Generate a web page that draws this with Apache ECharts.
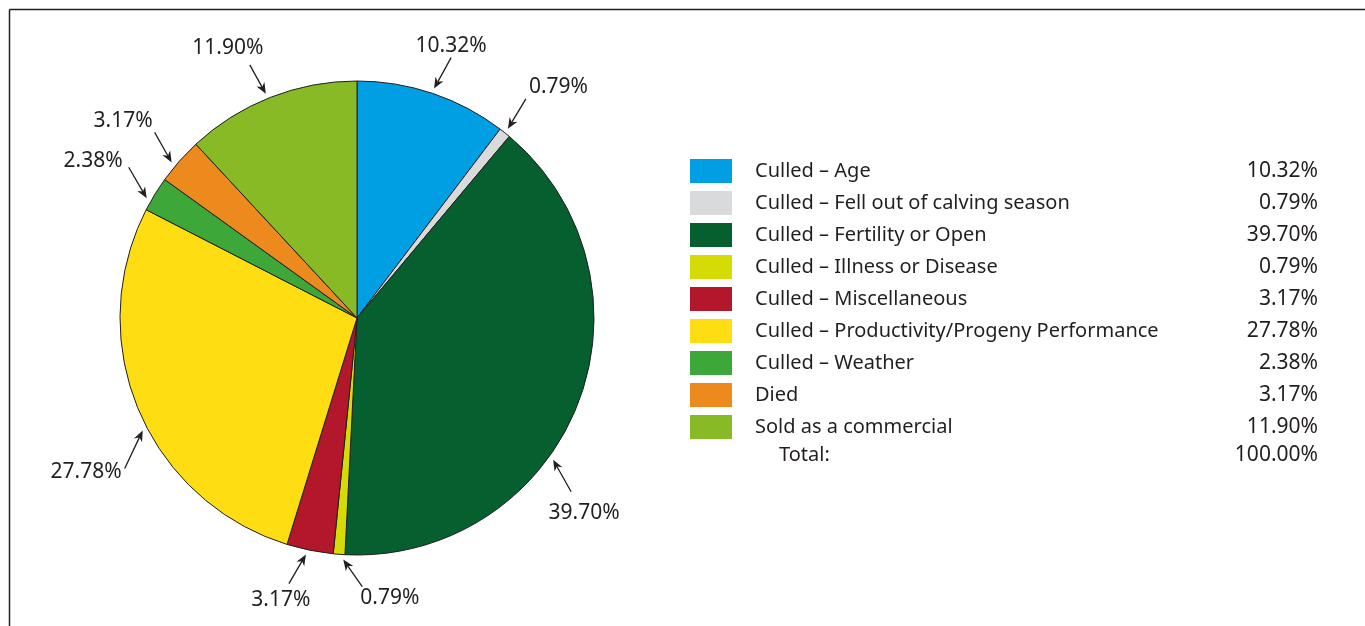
<!DOCTYPE html>
<html>
<head>
<meta charset="utf-8">
<script src="https://cdn.jsdelivr.net/npm/echarts@6/dist/echarts.min.js"></script>
<style>
html,body{margin:0;padding:0;background:#fff;}
#c{width:1365px;height:626px;}
</style>
</head>
<body>
<div id="c"></div>
<script>
// ---- data ----
const categories = [
  'Culled – Age',
  'Culled – Fell out of calving season',
  'Culled – Fertility or Open',
  'Culled – Illness or Disease',
  'Culled – Miscellaneous',
  'Culled – Productivity/Progeny Performance',
  'Culled – Weather',
  'Died',
  'Sold as a commercial'
];
const values = [10.32, 0.79, 39.70, 0.79, 3.17, 27.78, 2.38, 3.17, 11.90];
const valueLabels = ['10.32%', '0.79%', '39.70%', '0.79%', '3.17%', '27.78%', '2.38%', '3.17%', '11.90%'];
const totalName = 'Total:';
const totalLabel = '100.00%';

// ---- styles / layout (kept apart from the data) ----
const colors = ['#009fe3', '#d9dadb', '#065f2f', '#d5db05', '#b2172b', '#ffdd13', '#3da73a', '#ec8a1d', '#87ba25'];
const INK = '#231f20';
const FONT = 'Noto Sans';
const NAME_SIZE = 20, NUM_SIZE = 21;
const CX = 357, CY = 318, R = 237;
// arrow direction (tip -> tail) and text offset from tail, per label
const arrowVec = [[17,-31],[18,-30],[18,32],[19,27],[-17,29],[-18,38],[-18,-31],[-17,-30],[-16,-29]];
const textOff  = [[0,-12,'center'],[3,-12,'left'],[13,21,'center'],[-2,11,'left'],[-8,16,'center'],[-3,4,'right'],[-6,-6,'right'],[-2,-11,'right'],[-22,-17,'center']];
const anglePctShift = [0,0,4.0,-0.3,0.2,-1.35,-0.5,-0.4,-0.2];

const total = values.reduce((a, b) => a + b, 0);
let cum = 0;
const arrowData = values.map((v, i) => {
  const mid = cum + v / 2 + anglePctShift[i];
  cum += v;
  return [R + 5, mid, i];
});

const chart = echarts.init(document.getElementById('c'), null, {renderer: 'canvas'});
const numFont = NUM_SIZE + 'px "' + FONT + '"';
const nameFont = NAME_SIZE + 'px "' + FONT + '"';

const option = {
  backgroundColor: '#ffffff',
  animation: false,
  color: colors,
  polar: {center: [CX, CY], radius: R},
  angleAxis: {type: 'value', min: 0, max: total, startAngle: 90, clockwise: true, show: false},
  radiusAxis: {type: 'value', min: 0, max: R, show: false},
  legend: {
    orient: 'vertical',
    left: 690,
    top: 159,
    padding: 0,
    itemWidth: 42,
    itemHeight: 24,
    itemGap: 8,
    icon: 'rect',
    selectedMode: false,
    data: categories,
    itemStyle: {borderWidth: 0},
    formatter: function (name) {
      const i = categories.indexOf(name);
      return '{n|' + name + '}{v|' + valueLabels[i] + '}';
    },
    textStyle: {
      color: INK, fontFamily: FONT, fontSize: NAME_SIZE, lineHeight: 24,
      rich: {
        n: {color: INK, fontFamily: FONT, fontSize: NAME_SIZE, lineHeight: 24, width: 440, padding: [0, 0, 0, 18], verticalAlign: 'middle'},
        v: {color: INK, fontFamily: FONT, fontSize: NUM_SIZE, lineHeight: 24, width: 123, align: 'right', verticalAlign: 'middle'}
      }
    }
  },
  graphic: [
    {type: 'line', shape: {x1: 9.5, y1: 9.5, x2: 1365, y2: 9.5}, style: {stroke: INK, lineWidth: 1.5}, silent: true},
    {type: 'line', shape: {x1: 9.5, y1: 9.5, x2: 9.5, y2: 626}, style: {stroke: INK, lineWidth: 1.5}, silent: true},
    {type: 'text', x: 779, y: 455, style: {text: totalName, fill: INK, font: nameFont, verticalAlign: 'middle'}, silent: true},
    {type: 'text', x: 1318, y: 455, style: {text: totalLabel, fill: INK, font: numFont, align: 'right', verticalAlign: 'middle'}, silent: true}
  ],
  series: [
    {
      type: 'pie',
      center: [CX, CY],
      radius: [0, R],
      startAngle: 90,
      clockwise: true,
      avoidLabelOverlap: false,
      label: {show: false},
      labelLine: {show: false},
      emphasis: {disabled: true},
      itemStyle: {borderColor: INK, borderWidth: 1},
      data: categories.map((c, i) => ({name: c, value: values[i]})),
      z: 1
    },
    {
      type: 'custom',
      coordinateSystem: 'polar',
      silent: true,
      z: 5,
      data: arrowData,
      dimensions: ['radius', 'angle', 'idx'],
      encode: {radius: 0, angle: 1},
      renderItem: function (params, api) {
        const i = api.value(2);
        const tip = api.coord([api.value(0), api.value(1)]);
        const vec = arrowVec[i];
        const tail = [tip[0] + vec[0], tip[1] + vec[1]];
        const L = Math.hypot(vec[0], vec[1]);
        const ux = -vec[0] / L, uy = -vec[1] / L; // tail -> tip
        const hl = 11, hw = 4.5;
        const base = [tip[0] - ux * hl, tip[1] - uy * hl];
        const notch = [tip[0] - ux * hl * 0.7, tip[1] - uy * hl * 0.7];
        const p1 = [base[0] - uy * hw, base[1] + ux * hw];
        const p2 = [base[0] + uy * hw, base[1] - ux * hw];
        const to = textOff[i];
        return {
          type: 'group',
          children: [
            {type: 'line', shape: {x1: tail[0], y1: tail[1], x2: notch[0], y2: notch[1]}, style: {stroke: INK, lineWidth: 1.3}},
            {type: 'polygon', shape: {points: [tip, p1, notch, p2]}, style: {fill: INK}},
            {type: 'text', x: tail[0] + to[0], y: tail[1] + to[1],
             style: {text: valueLabels[i], fill: INK, font: numFont, align: to[2], verticalAlign: 'middle'}}
          ]
        };
      }
    }
  ]
};
chart.setOption(option);
</script>
</body>
</html>
